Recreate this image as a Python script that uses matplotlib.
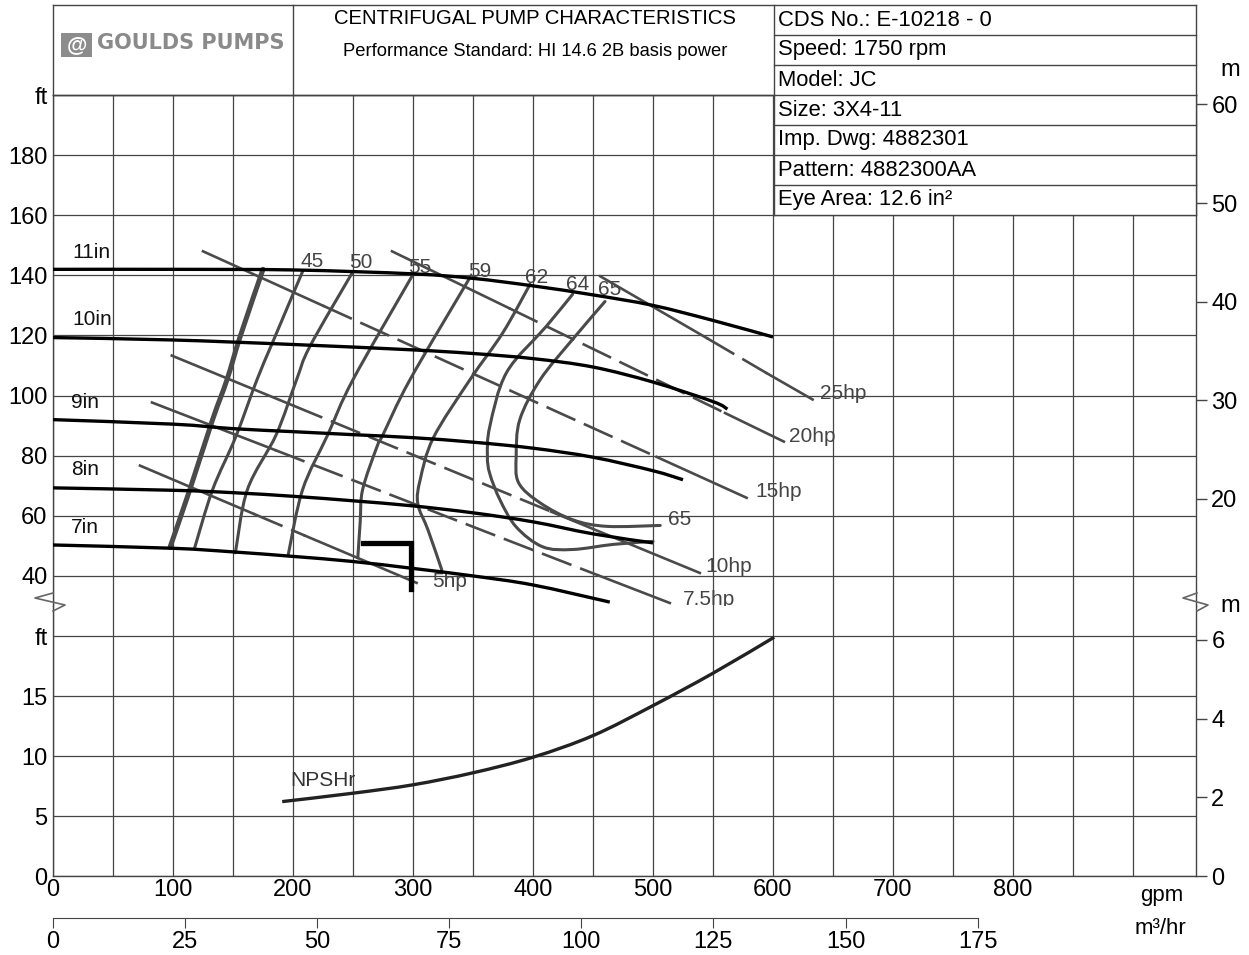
import matplotlib.pyplot as plt
import numpy as np
from matplotlib.patches import Rectangle, FancyBboxPatch, PathPatch
from matplotlib.lines import Line2D
from matplotlib.path import Path

plt.rcParams['font.family'] = ['Liberation Sans', 'DejaVu Sans']

W, H = 1249, 955
GPM_PER_M3H = 4.40287
M_PER_FT = 0.3048

# impeller curves, head (ft) vs flow (gpm)
imp_names = ['11in', '10in', '9in', '8in', '7in']
imp_q = [
    [0, 100, 200, 300, 350, 400, 450, 500, 550, 600],
    [0, 100, 200, 300, 350, 400, 450, 500, 550, 562],
    [0, 100, 150, 200, 250, 300, 350, 400, 450, 500, 525],
    [0, 100, 150, 200, 250, 300, 350, 400, 450, 500],
    [0, 100, 150, 200, 250, 300, 350, 400, 464],
]
imp_h = [
    [142, 142, 141.8, 140.5, 139, 136.5, 133.5, 130, 125, 119.5],
    [119.3, 118.5, 117, 115.2, 114, 112.3, 109.5, 104.5, 98, 95.5],
    [92, 90.5, 89, 88, 87, 86, 84.5, 82.5, 79.5, 75, 72],
    [69.3, 68.5, 67.7, 66.5, 65, 63.3, 61, 58, 54, 51],
    [50.3, 49.2, 48, 46.5, 44.8, 42.5, 40, 37, 31.3],
]

# efficiency curves (%), first one is the unlabelled heavy line
eff_names = ['', '45', '50', '55', '59', '62', '64', '65']
eff_q = [
    [97.5, 114, 133, 145, 156, 175],
    [118, 133, 152, 170, 183, 208],
    [152, 162, 186, 203, 214, 250],
    [196, 208, 229, 250, 300],
    [254, 256, 258, 270, 275, 297.5, 347.5],
    [324, 312.5, 304, 306, 317, 347.5, 375, 397.5],
    [500, 467, 433, 408, 386, 372.5, 364, 362, 364, 378, 411, 433],
    [506, 461.5, 433, 406, 388, 386, 389, 406, 433, 460],
]
eff_h = [
    [49.5, 68.7, 92, 105.3, 119.7, 142],
    [49.3, 68.7, 86, 105.3, 117.7, 141.3],
    [47.7, 68.7, 87, 105.3, 116.3, 141.3],
    [47, 68.7, 87, 105.3, 140.3],
    [46, 58, 68.7, 83, 87, 105.3, 139.3],
    [42, 55.3, 64, 72, 86, 105.3, 121, 137],
    [51.5, 50.5, 48.8, 49.7, 56.3, 65.3, 74, 80, 89.7, 107.7, 123, 133.7],
    [56.8, 56.5, 58.7, 64.3, 71, 80, 92, 105.3, 118.7, 131.3],
]

# power lines: start, dash start, dash end, end
hp_names = ['5hp', '7.5hp', '10hp', '15hp', '20hp', '25hp']
hp_q = [
    [72.5, 167, 210, 303],
    [82.5, 185, 455, 514],
    [99, 200, 415, 539],
    [125, 225, 503, 578],
    [282.5, 380, 560, 609],
    [456, 545, 595, 633],
]
hp_h = [
    [76.7, 60.7, 53.4, 37.7],
    [97.7, 81.9, 40.1, 31],
    [113.3, 96.7, 61.4, 41],
    [148, 129.9, 79.6, 66],
    [148, 129.1, 94.2, 84.7],
    [139.7, 119.1, 107.4, 98.7],
]

# NPSH required (ft)
npsh_q = [191, 250, 300, 350, 400, 450, 500, 550, 601]
npsh_h = [6.2, 6.9, 7.6, 8.6, 9.9, 11.7, 14.2, 16.9, 19.9]

# duty marker
duty_q = [258, 298, 298]
duty_h = [51, 51, 35.5]

gpm_ticks = [0, 100, 200, 300, 400, 500, 600, 700, 800]
m3h_ticks = [0, 25, 50, 75, 100, 125, 150, 175]
ft_ticks_top = [40, 60, 80, 100, 120, 140, 160, 180, 200]
ft_ticks_low = [0, 5, 10, 15, 20]
m_ticks_top = [20, 30, 40, 50, 60]
m_ticks_low = [0, 2, 4, 6]

info_rows = ['CDS No.: E-10218 - 0', 'Speed: 1750 rpm', 'Model: JC', 'Size: 3X4-11',
             'Imp. Dwg: 4882301', 'Pattern: 4882300AA', 'Eye Area: 12.6 in²']

GRID = '#444444'
CURVE = '#4a4a4a'


def fx(px):
    return px / W


def fy(py):
    return 1 - py / H


def smooth_path(q, h):
    # Catmull-Rom through the read points, drawn as cubic Bezier segments
    p = np.column_stack([q, h]).astype(float)
    n = len(p)
    verts = [p[0]]
    codes = [Path.MOVETO]
    for i in range(n - 1):
        p0 = p[i - 1] if i > 0 else p[i]
        p3 = p[i + 2] if i + 2 < n else p[i + 1]
        verts += [p[i] + (p[i + 1] - p0) / 6, p[i + 1] - (p3 - p[i]) / 6, p[i + 1]]
        codes += [Path.CURVE4] * 3
    return Path(verts, codes)


def curve(a, q, h, **kw):
    a.add_patch(PathPatch(smooth_path(q, h), fill=False, **kw))


fig = plt.figure(figsize=(W / 100, H / 100), dpi=100)
X0, X1 = 53, 1196
QMAX = (X1 - X0) / 1.2
grid_minor = [q for q in range(50, 901, 50) if q not in gpm_ticks]

ax = fig.add_axes([fx(X0), fy(606), fx(X1) - fx(X0), fy(95) - fy(606)])
axl = fig.add_axes([fx(X0), fy(876), fx(X1) - fx(X0), fy(606) - fy(876)])

for a in (ax, axl):
    a.set_xlim(0, QMAX)
    a.set_xticks(gpm_ticks)
    a.set_xticks(grid_minor, minor=True)
    a.grid(True, which='major', color=GRID, lw=0.9)
    a.grid(True, which='minor', axis='x', color=GRID, lw=0.9)
    a.set_axisbelow(True)
    a.tick_params(which='both', length=0, labelsize=17, pad=4)
    for s in a.spines.values():
        s.set_color(GRID)
        s.set_linewidth(1)

ax.set_ylim(30, 200)
ax.set_yticks(ft_ticks_top)
ax.set_yticklabels([str(t) for t in ft_ticks_top[:-1]] + ['ft'])
ax.set_xticklabels([])
ax.spines['bottom'].set_visible(False)

axl.set_ylim(0, 22.5)
axl.set_yticks(ft_ticks_low)
axl.set_yticklabels([str(t) for t in ft_ticks_low[:-1]] + ['ft'])
axl.set_xticklabels([str(t) for t in gpm_ticks])
axl.spines['top'].set_visible(False)
axl.tick_params(axis='x', pad=2)

# right-hand metre axes
for a, lo, hi, ticks in ((ax, 30, 200, m_ticks_top), (axl, 0, 22.5, m_ticks_low)):
    r = a.twinx()
    r.set_ylim(lo * M_PER_FT, hi * M_PER_FT)
    r.set_yticks(ticks)
    r.tick_params(axis='y', length=8, width=1, color=GRID, labelsize=17, pad=3)
    for s in r.spines.values():
        s.set_visible(False)

# impeller curves
for q, h in zip(imp_q, imp_h):
    curve(ax, q, h, edgecolor='black', lw=2.4, capstyle='butt', zorder=4)
imp_lab_pos = [(16, 147.7), (16, 125.3), (15, 97.7), (15, 75.3), (15, 56)]
for name, (x, y) in zip(imp_names, imp_lab_pos):
    ax.text(x, y, name, fontsize=15, ha='left', va='center', color='#111')

# efficiency curves
for i, (q, h) in enumerate(zip(eff_q, eff_h)):
    curve(ax, q, h, edgecolor=CURVE, lw=3.6 if i == 0 else 2.2, capstyle='round', zorder=3)
eff_lab_pos = [None, (216, 144.7), (256.7, 144.3), (306, 142.7), (356, 141.3),
               (403, 139.3), (437.5, 137), (464, 135.3)]
for name, pos in zip(eff_names, eff_lab_pos):
    if pos:
        ax.text(pos[0], pos[1], name, fontsize=15, ha='center', va='center', color='#444')
ax.text(522.5, 58.7, '65', fontsize=15, ha='center', va='center', color='#444')

# power lines
for q, h in zip(hp_q, hp_h):
    ax.plot(q[:2], h[:2], color=CURVE, lw=1.9, zorder=3)
    ax.plot(q[1:3], h[1:3], color=CURVE, lw=1.9, ls=(0, (12, 3.5)), zorder=3)
    ax.plot(q[2:], h[2:], color=CURVE, lw=1.9, zorder=3)
hp_lab_pos = [(316, 38), (525, 32), (544, 43), (585, 68), (613, 86.3), (639, 100.7)]
for name, (x, y) in zip(hp_names, hp_lab_pos):
    ax.text(x, y, name, fontsize=15, ha='left', va='center', color='#444')

ax.plot(duty_q, duty_h, color='black', lw=3.8, solid_joinstyle='miter', zorder=5)

# NPSHr
curve(axl, npsh_q, npsh_h, edgecolor='#222', lw=2.4, zorder=3)
axl.text(225, 8.0, 'NPSHr', fontsize=15, ha='center', va='center', color='#333')

# m3/hr scale
axm = fig.add_axes([fx(X0), fy(918), fx(X1) - fx(X0), 0.0005])
axm.set_xlim(0, QMAX / GPM_PER_M3H)
axm.set_xticks(m3h_ticks)
axm.set_yticks([])
axm.patch.set_alpha(0)
for s in ['top', 'left', 'right']:
    axm.spines[s].set_visible(False)
axm.spines['bottom'].set_bounds(0, 175)
axm.spines['bottom'].set_color(GRID)
axm.tick_params(axis='x', length=7, color=GRID, labelsize=17, pad=2)

fig.text(fx(1162), fy(895), 'gpm', fontsize=16, ha='center', va='center')
fig.text(fx(1160), fy(928), 'm³/hr', fontsize=16, ha='center', va='center')
fig.text(fx(1230), fy(70), 'm', fontsize=17, ha='center', va='center')
fig.text(fx(1230), fy(606), 'm', fontsize=17, ha='center', va='center')

# axis break marks
for xs in ([53, 35, 65, 53], [1197, 1183, 1208, 1197]):
    fig.add_artist(Line2D([fx(v) for v in xs], [fy(593), fy(598), fy(605), fy(611)],
                          color='#666', lw=1.2, zorder=6))


# header blocks
def hline(x0, x1, y):
    fig.add_artist(Line2D([fx(x0), fx(x1)], [fy(y), fy(y)], color=GRID, lw=1, zorder=7))


def vline(x, y0, y1):
    fig.add_artist(Line2D([fx(x), fx(x)], [fy(y0), fy(y1)], color=GRID, lw=1, zorder=7))


fig.add_artist(Rectangle((fx(774), fy(215)), fx(1196) - fx(774), fy(5) - fy(215),
                         facecolor='white', edgecolor='none', zorder=6))
hline(53, 1196, 5)
hline(53, 774, 95)
vline(53, 5, 95)
vline(293, 5, 95)
vline(774, 5, 215)
vline(1196, 5, 215)
for k in range(7):
    y = 35 + 30 * k
    hline(774, 1196, y)
    fig.text(fx(778), fy(y - 15), info_rows[k], fontsize=15.8, ha='left', va='center', zorder=8)

fig.text(fx(535), fy(19), 'CENTRIFUGAL PUMP CHARACTERISTICS', fontsize=14.6, ha='center', va='center')
fig.text(fx(535), fy(51), 'Performance Standard: HI 14.6 2B basis power', fontsize=13.2, ha='center', va='center')

fig.add_artist(FancyBboxPatch((fx(61), fy(57)), fx(92) - fx(61), fy(33) - fy(57),
                              boxstyle='square,pad=0', facecolor='#8c8c8c', edgecolor='none', zorder=7))
fig.text(fx(76.5), fy(45), '@', fontsize=15, fontweight='bold', ha='center', va='center', color='white', zorder=8)
fig.text(fx(97), fy(43), 'GOULDS PUMPS', fontsize=15, fontweight='bold', ha='left', va='center',
         color='#8a8a8a', family=['DejaVu Sans'])

fig.savefig('out.png', dpi=100)
